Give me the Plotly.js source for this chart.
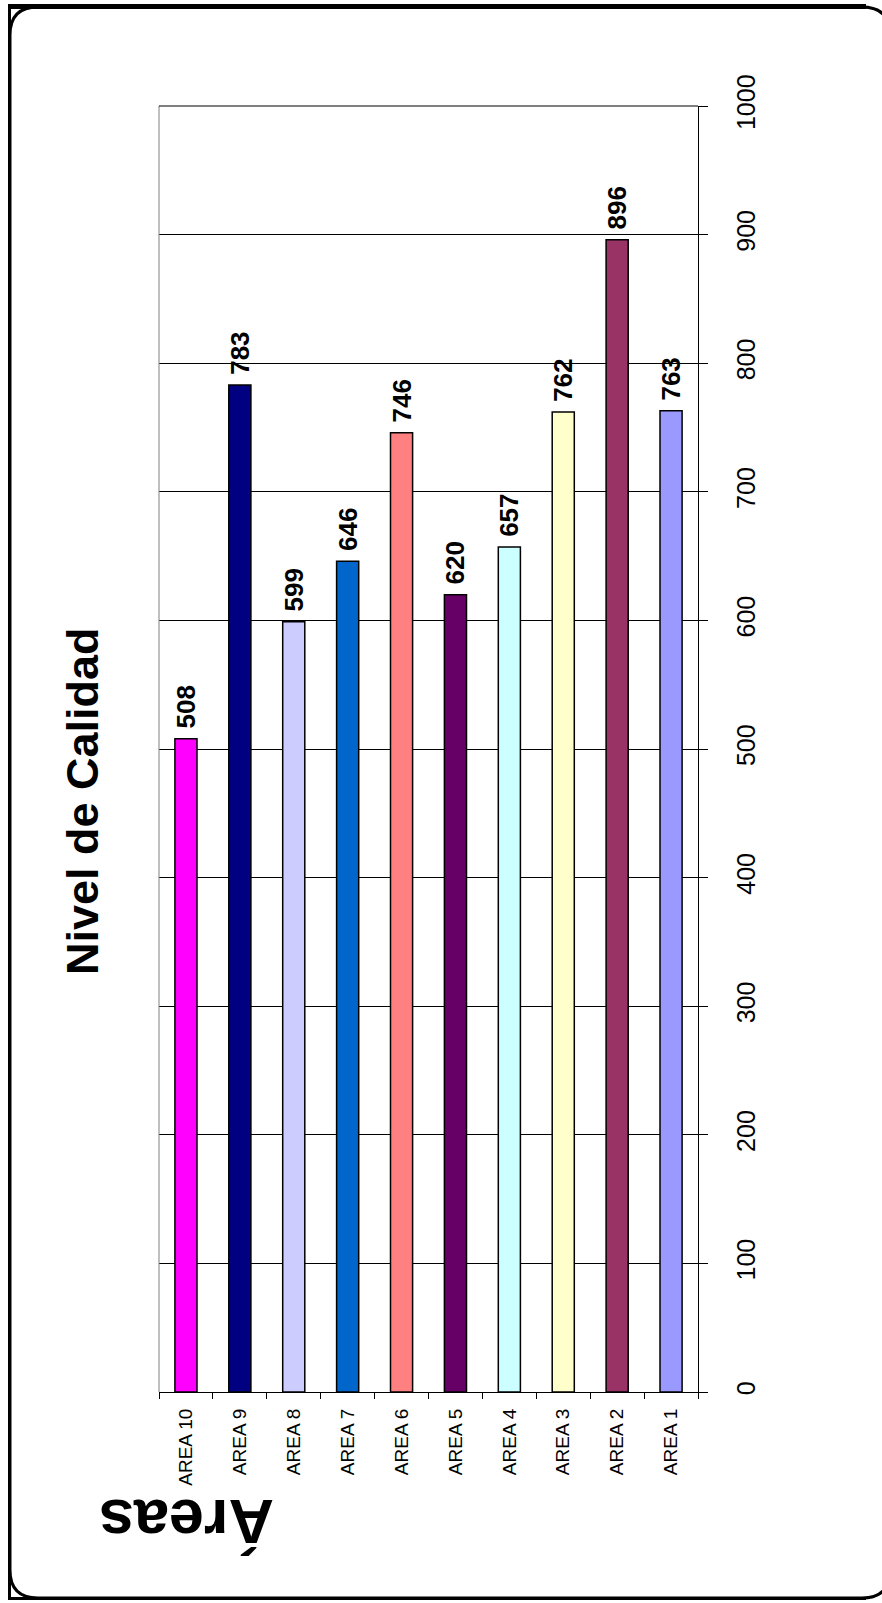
<!DOCTYPE html>
<html>
<head>
<meta charset="utf-8">
<script src="https://cdn.plot.ly/plotly-3.0.1.min.js"></script>
<style>
html,body{margin:0;padding:0;background:#fff;}
#chart{width:882px;height:1603px;}
</style>
</head>
<body>
<div id="chart"></div>
<script>
// ---- data ----
const categories = ['AREA 10','AREA 9','AREA 8','AREA 7','AREA 6','AREA 5','AREA 4','AREA 3','AREA 2','AREA 1'];
const values = [508, 783, 599, 646, 746, 620, 657, 762, 896, 763];
const barColors = ['#FF00FF','#000080','#CCCCFF','#0066CC','#FF8080','#660066','#CCFFFF','#FFFFCC','#993366','#9999FF'];
const valueTicks = [0,100,200,300,400,500,600,700,800,900,1000];
const titleText = 'Nivel de Calidad';
const categoryTitle = 'Áreas';

// ---- layout geometry (pixels) ----
const W = 882, H = 1603;
const PL = 159, PR = 698, PT = 106, PB = 1392;
const px = x => (x - PL) / (PR - PL);
const py = y => (PB - y) / (PB - PT);
const FONT = 'Liberation Sans, Arial, sans-serif';

// rounded frame
const fL = 10, fR = 890, fT = 7, fB = 1598, r = 28;
const roundedFrame = [
  ['M', fL, fT + r], ['Q', fL, fT], ['', fL + r, fT],
  ['L', fR - r, fT], ['Q', fR, fT], ['', fR, fT + r],
  ['L', fR, fB - r], ['Q', fR, fB], ['', fR - r, fB],
  ['L', fL + r, fB], ['Q', fL, fB], ['', fL, fB - r], ['Z', null, null]
];
function framePath() {
  return roundedFrame.map(p => p[1] === null ? 'Z' : (p[0] ? p[0] + ' ' : '') + px(p[1]).toFixed(5) + ',' + py(p[2]).toFixed(5)).join(' ');
}

const shapes = [
  {type:'path', xref:'paper', yref:'paper', path: framePath(), line:{color:'#000', width:3}},
  {type:'line', xref:'paper', yref:'paper', x0:px(8), x1:px(866), y0:py(6.5), y1:py(6.5), line:{color:'#000', width:5}},
  {type:'line', xref:'paper', yref:'paper', x0:px(9.5), x1:px(9.5), y0:py(4), y1:py(1600), line:{color:'#000', width:3}},
  {type:'line', xref:'paper', yref:'paper', x0:px(8), x1:px(866), y0:py(1598.5), y1:py(1598.5), line:{color:'#000', width:3}},
  {type:'line', xref:'paper', yref:'paper', x0:0, x1:0, y0:0, y1:1, line:{color:'#808080', width:1}},
  {type:'line', xref:'paper', yref:'paper', x0:0, x1:1, y0:1, y1:1, line:{color:'#000', width:1}}
];

const trace = {
  type: 'bar',
  x: categories,
  y: values,
  marker: {color: barColors, line: {color: '#000', width: 1.5}},
  text: values.map(String),
  texttemplate: ' <b>%{text}</b>',
  textposition: 'outside',
  textangle: -90,
  textfont: {family: FONT, size: 26, color: '#000'},
  cliponaxis: false,
  constraintext: 'none',
  hoverinfo: 'skip'
};

const layout = {
  width: W, height: H,
  margin: {l: PL, r: W - PR, t: PT, b: H - PB, pad: 0},
  paper_bgcolor: '#fff',
  plot_bgcolor: '#fff',
  showlegend: false,
  bargap: 0.59,
  font: {family: FONT, color: '#000'},
  xaxis: {
    type: 'category',
    showgrid: false,
    showline: true, linecolor: '#000', linewidth: 1,
    ticks: 'outside', tickson: 'boundaries', ticklen: 6, tickcolor: '#000', tickwidth: 1,
    tickangle: -90,
    tickfont: {family: FONT, size: 19, color: '#000'},
    ticklabelstandoff: 8,
    fixedrange: true
  },
  yaxis: {
    side: 'right',
    range: [0, 1000],
    tickvals: valueTicks,
    ticktext: valueTicks.map(String),
    showgrid: true, gridcolor: '#000', gridwidth: 1,
    zeroline: false,
    showline: true, linecolor: '#000', linewidth: 1,
    ticks: 'outside', ticklen: 9, tickcolor: '#000', tickwidth: 1,
    tickangle: -90,
    tickfont: {family: FONT, size: 25, color: '#000'},
    ticklabelstandoff: 17,
    fixedrange: true
  },
  shapes: shapes,
  annotations: [
    {text: '<b>' + titleText + '</b>', xref: 'paper', yref: 'paper', x: px(82), y: py(801),
     xanchor: 'center', yanchor: 'middle', showarrow: false, textangle: -90,
     font: {family: FONT, size: 45, color: '#000'}},
    {text: '<b>' + categoryTitle + '</b>', xref: 'paper', yref: 'paper', x: px(187), y: py(1522),
     xanchor: 'center', yanchor: 'middle', showarrow: false, textangle: 180,
     font: {family: FONT, size: 63, color: '#000'}}
  ]
};

Plotly.newPlot('chart', [trace], layout, {staticPlot: true, displayModeBar: false});
</script>
</body>
</html>
